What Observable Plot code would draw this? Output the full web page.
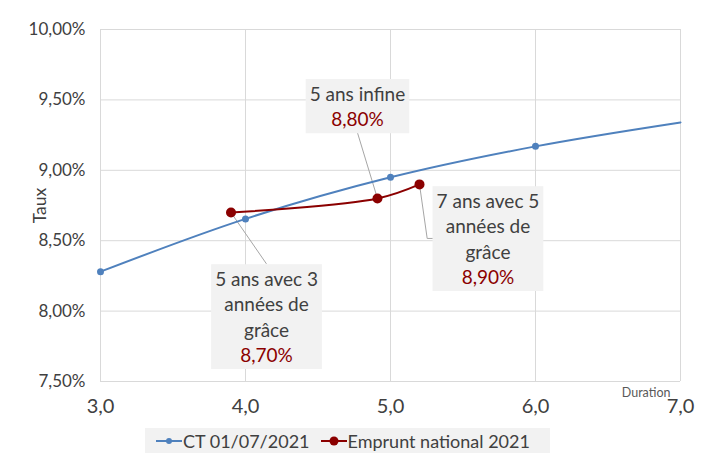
<!DOCTYPE html>
<html><head><meta charset="utf-8">
<script src="https://cdn.jsdelivr.net/npm/d3@7"></script>
<script src="https://cdn.jsdelivr.net/npm/@observablehq/plot@0.6"></script>
<style>
body{margin:0;background:#fff;font-family:Lato,"DejaVu Sans",sans-serif;}
#legend{margin-left:145px;margin-top:8px;width:405px;height:25px;background:#f2f2f2;display:flex;align-items:center;font:18px Lato,sans-serif;color:#404040;box-sizing:border-box;padding-left:10px;}
#legend .item{display:flex;align-items:center;margin-right:10px;white-space:nowrap;}
#legend svg{display:block;}
</style></head><body>
<div id="chart"></div>
<div id="legend"></div>
<script>
// ---- data ----
const ctDuration = [3, 4, 5, 6, 7];
const ctRate = [8.28, 8.655, 8.95, 9.17, 9.34];
const ctMarker = [true, true, true, true, false];
const epDuration = [3.9, 4.91, 5.2];
const epRate = [8.70, 8.80, 8.90];
const annLabel = ["5 ans infine", "7 ans avec 5\nannées de\ngrâce", "5 ans avec 3\nannées de\ngrâce"];
const annPoint = [1, 2, 0];
const annX = [4.772, 5.672, 4.145];
const annY = [9.46, 8.519, 7.965];
const leaderX = [[4.91, 4.772], [5.2, 5.253, 5.29], [3.9, 4.143]];
const leaderY = [[8.80, 9.268], [8.90, 8.516, 8.516], [8.70, 8.338]];
const xTicks = [3, 4, 5, 6, 7];
const yTicks = [7.5, 8, 8.5, 9, 9.5, 10];
const seriesNames = ["CT 01/07/2021", "Emprunt national 2021"];
const seriesColors = ["#4F81BD", "#8B0000"];
const xTitle = "Duration";
const yTitle = "Taux";

// ---- build tables ----
const fmtPct = d => d.toFixed(2).replace(".", ",") + "%";
const fmtX = d => d.toFixed(1).replace(".", ",");
const ct = ctDuration.map((x, i) => ({x, y: ctRate[i], m: ctMarker[i]}));
const ep = epDuration.map((x, i) => ({x, y: epRate[i]}));
const anns = annLabel.map((label, i) => ({x: annX[i], y: annY[i], text: label + "\n" + fmtPct(epRate[annPoint[i]])}));
const leaders = leaderX.flatMap((xs, i) => xs.map((x, j) => ({k: i, x, y: leaderY[i][j]})));

const plot = Plot.plot({
  width: 715,
  height: 420,
  marginTop: 29,
  marginBottom: 39,
  marginLeft: 100,
  marginRight: 35,
  style: {fontFamily: "Lato, sans-serif", color: "#404040", background: "#fff"},
  x: {domain: [3, 7]},
  y: {domain: [7.5, 10]},
  marks: [
    Plot.gridX(xTicks, {stroke: "#d9d9d9", strokeOpacity: 1}),
    Plot.gridY(yTicks, {stroke: "#d9d9d9", strokeOpacity: 1}),
    Plot.axisY(yTicks, {tickSize: 0, tickPadding: 15, tickFormat: fmtPct, fontSize: 17, label: null}),
    Plot.axisX(xTicks, {tickSize: 0, tickPadding: 17, tickFormat: fmtX, fontSize: 20, label: null}),
    Plot.text([yTitle], {frameAnchor: "left", dx: -60, rotate: -90, textAnchor: "middle", lineAnchor: "middle", fontSize: 17.5, fill: "#404040"}),
    Plot.text([xTitle], {frameAnchor: "bottom-right", dx: -10, dy: 11, textAnchor: "end", lineAnchor: "middle", fontSize: 12.5, fill: "#595959"}),
    Plot.line(leaders, {x: "x", y: "y", z: "k", stroke: "#a6a6a6", strokeWidth: 1}),
    Plot.line(ct, {x: "x", y: "y", stroke: seriesColors[0], strokeWidth: 2, curve: "catmull-rom"}),
    Plot.dot(ct.filter(d => d.m), {x: "x", y: "y", r: 3.5, fill: seriesColors[0]}),
    Plot.line(ep, {x: "x", y: "y", stroke: seriesColors[1], strokeWidth: 2, curve: "catmull-rom"}),
    Plot.dot(ep, {x: "x", y: "y", r: 5, fill: seriesColors[1]}),
    Plot.text(anns, {x: "x", y: "y", text: "text", fontSize: 19, lineHeight: 1.33, fill: "#404040", textAnchor: "middle", lineAnchor: "middle", ariaDescription: "ann"})
  ]
});
document.getElementById("chart").appendChild(plot);

// annotation boxes and coloured values
plot.querySelectorAll('g[aria-description="ann"] text').forEach(t => {
  const spans = t.querySelectorAll("tspan");
  if (spans.length) spans[spans.length - 1].setAttribute("fill", seriesColors[1]);
  const b = t.getBBox();
  const r = document.createElementNS("http://www.w3.org/2000/svg", "rect");
  r.setAttribute("x", b.x - 4);
  r.setAttribute("y", b.y - 3);
  r.setAttribute("width", b.width + 8);
  r.setAttribute("height", b.height + 6);
  r.setAttribute("fill", "#f2f2f2");
  if (t.getAttribute("transform")) r.setAttribute("transform", t.getAttribute("transform"));
  t.parentNode.insertBefore(r, t);
});

// legend
const lg = document.getElementById("legend");
seriesNames.forEach((name, i) => {
  const item = document.createElement("div");
  item.className = "item";
  const r = i === 0 ? 3 : 4.5;
  item.innerHTML = `<svg width="28" height="14"><line x1="1" x2="27" y1="7" y2="7" stroke="${seriesColors[i]}" stroke-width="2"/><circle cx="14" cy="7" r="${r}" fill="${seriesColors[i]}"/></svg><span>${name}</span>`;
  lg.appendChild(item);
});
</script>
</body></html>
